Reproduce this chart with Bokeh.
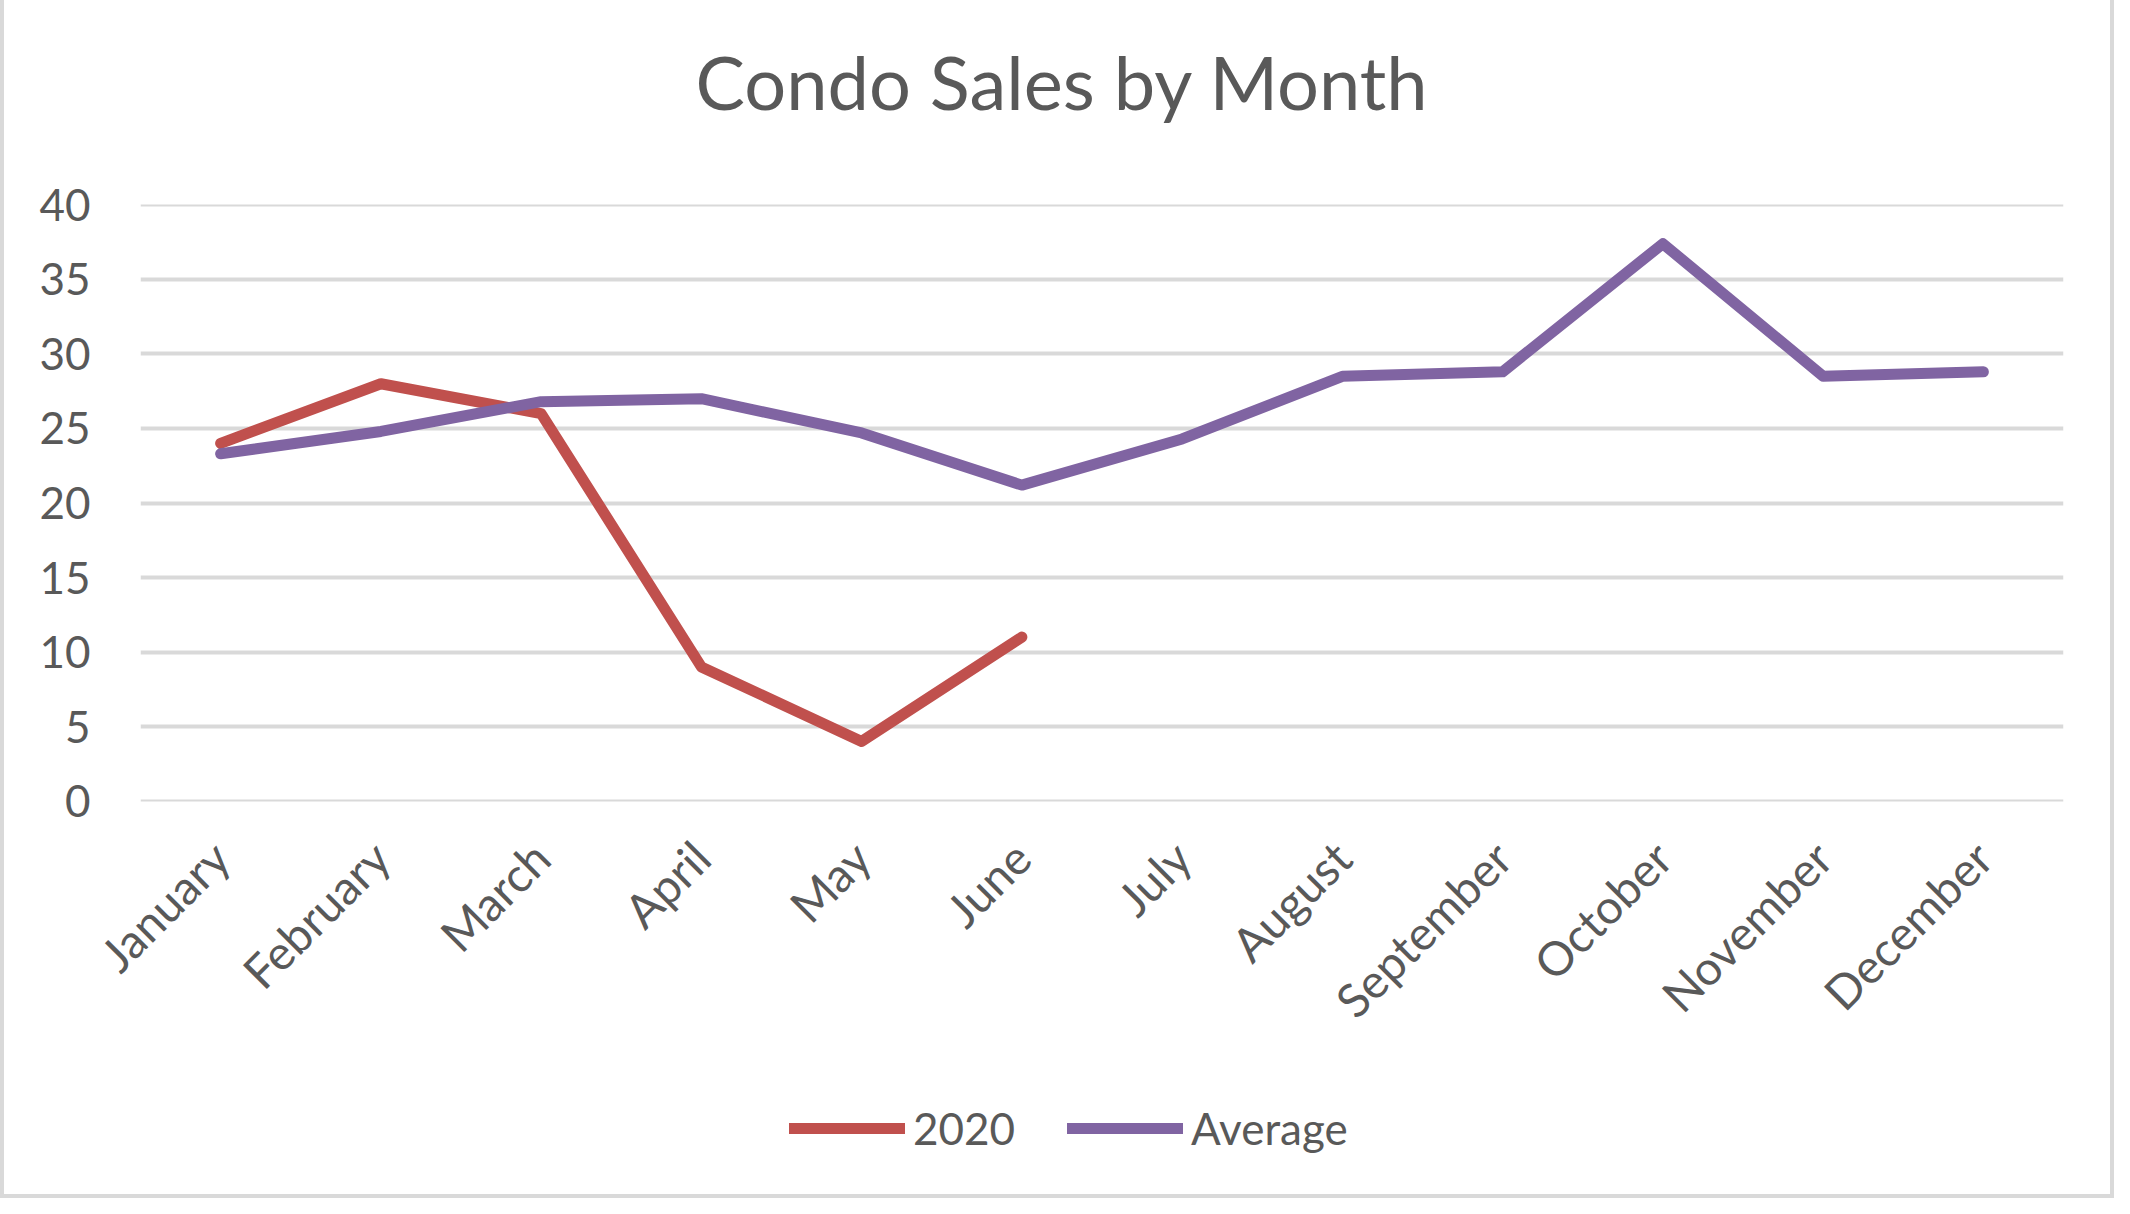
from bokeh.plotting import figure
from bokeh.layouts import column
from bokeh.models import (FactorRange, Range1d, Legend, LegendItem, SingleIntervalTicker,
                          Label)
from bokeh.embed import file_html
from bokeh.resources import INLINE
import math

months = ["January", "February", "March", "April", "May", "June", "July",
          "August", "September", "October", "November", "December"]
sales_2020 = [24, 28, 26, 9, 4, 11]
average = [23.3, 24.8, 26.8, 27.0, 24.7, 21.2, 24.3, 28.5, 28.8, 37.4, 28.5, 28.8]
series_names = ["2020", "Average"]
chart_title = "Condo Sales by Month"

RED = "#C0504D"
PURPLE = "#8064A2"
GREY_TXT = "#595959"
BORDER = "#d9d9d9"
FONT = "Lato"

PAD = 4                 # chart-area border (left, right, bottom)
W = 2114 - 2 * PAD
H0 = 150                # title strip
H1 = 910                # chart
H2 = 1198 - PAD - H0 - H1   # legend strip
FRAME_LEFT_PAGE = 140   # frames of all strips are aligned to this


def strip(height):
    f = figure(width=W, height=height, x_range=Range1d(0, 1), y_range=Range1d(0, 1),
               output_backend="svg", toolbar_location=None,
               x_axis_location=None, y_axis_location=None,
               min_border_top=0, min_border_bottom=0,
               min_border_left=0, min_border_right=0)
    f.xgrid.grid_line_color = None
    f.ygrid.grid_line_color = None
    f.outline_line_color = None
    f.background_fill_color = "white"
    f.border_fill_color = "white"
    return f


# ---- title strip
p0 = strip(H0)
p0.add_layout(Label(x=1062 - FRAME_LEFT_PAGE, y=H0 - 81, x_units="screen", y_units="screen",
                    text=chart_title, text_align="center", text_baseline="middle",
                    text_font=FONT, text_font_size="74px", text_color=GREY_TXT))

# ---- main chart
p = figure(width=W, height=H1, x_range=FactorRange(*months), y_range=Range1d(-0.03, 40.03),
           output_backend="svg", toolbar_location=None,
           min_border_left=FRAME_LEFT_PAGE - PAD, min_border_right=W - (2063 - PAD),
           min_border_top=204 - H0, min_border_bottom=H1 + H0 - 801)
p.title.text = ""
p.outline_line_color = None
p.background_fill_color = "white"
p.border_fill_color = "white"

p.xgrid.grid_line_color = None
p.ygrid.grid_line_color = BORDER
p.ygrid.grid_line_width = 4
p.yaxis.ticker = SingleIntervalTicker(interval=5)

for ax in (p.xaxis[0], p.yaxis[0]):
    ax.axis_line_color = None
    ax.major_tick_line_color = None
    ax.minor_tick_line_color = None
    ax.major_label_text_font = FONT
    ax.major_label_text_color = GREY_TXT

p.yaxis.major_label_text_font_size = "44px"
p.xaxis.major_label_text_font_size = "47px"
p.yaxis.major_label_standoff = 44
p.xaxis.major_label_standoff = 42
p.xaxis.major_label_orientation = math.pi / 4

p.line(months[:len(sales_2020)], sales_2020, line_color=RED, line_width=11,
       line_cap="round", line_join="round")
p.line(months, average, line_color=PURPLE, line_width=11,
       line_cap="round", line_join="round")

# ---- legend strip
p2 = strip(H2)
lr1 = p2.line(x=[-1, -1], y=[-1, -1], line_color=RED, line_width=11, line_cap="round")
lr2 = p2.line(x=[-1, -1], y=[-1, -1], line_color=PURPLE, line_width=11, line_cap="round")

legend = Legend(items=[LegendItem(label=series_names[0], renderers=[lr1]),
                       LegendItem(label=series_names[1], renderers=[lr2])],
                orientation="horizontal",
                location=(789 - FRAME_LEFT_PAGE, (1198 - PAD - 1128) - 26))
legend.label_text_font = FONT
legend.label_text_font_size = "44px"
legend.label_text_color = GREY_TXT
legend.glyph_width = 116
legend.glyph_height = 40
legend.spacing = 52
legend.label_standoff = 8
legend.border_line_color = None
legend.background_fill_alpha = 0
legend.padding = 0
legend.margin = 0
p2.add_layout(legend, "center")

layout = column(p0, p, p2, spacing=0)
side = f"{PAD}px solid {BORDER}"
layout.styles = {"border-left": side, "border-right": side, "border-bottom": side,
                 "background-color": "white", "width": "fit-content"}

open("out.html", "w").write(file_html(layout, INLINE))
